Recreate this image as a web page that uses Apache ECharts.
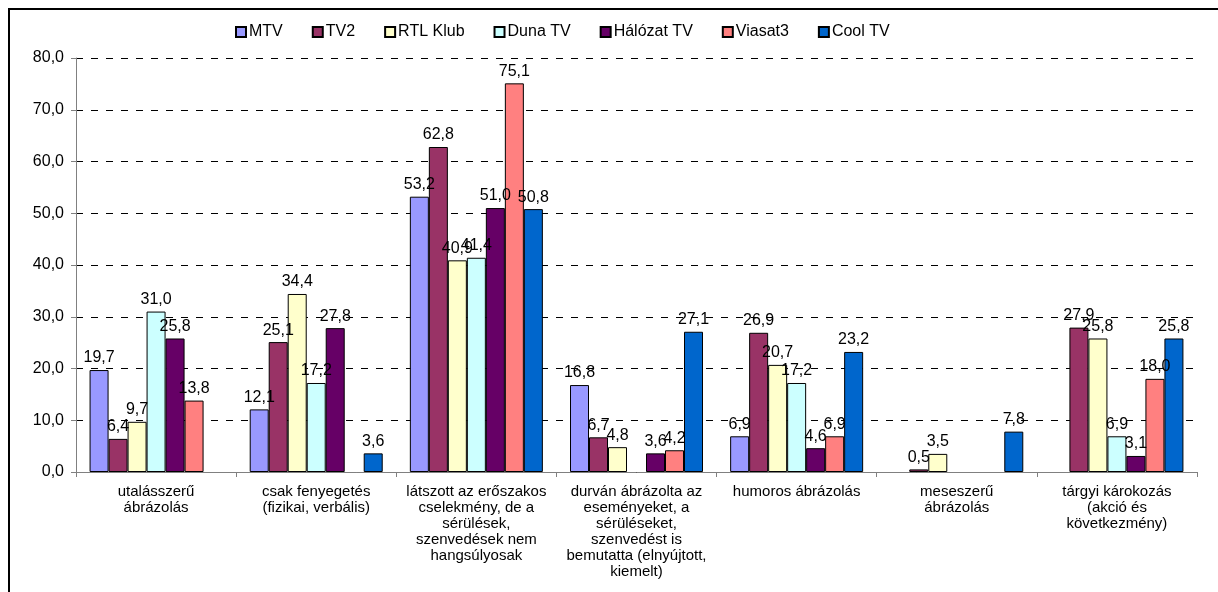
<!DOCTYPE html>
<html>
<head>
<meta charset="utf-8">
<script src="https://cdn.jsdelivr.net/npm/echarts@6/dist/echarts.min.js"></script>
<style>
  html, body { margin: 0; padding: 0; background: #fff; overflow: hidden; }
  #frame { position: absolute; left: 8px; top: 8px; width: 1300px; height: 700px;
           border-left: 2px solid #000; border-top: 2px solid #000; box-sizing: border-box; }
  #chart { position: absolute; left: 0; top: 0; width: 1218px; height: 592px; }
</style>
</head>
<body>
<div id="frame"></div>
<div id="chart"></div>
<script>
// Categories of violence depiction
const categories = [
  'utalásszerű\nábrázolás',
  'csak fenyegetés\n(fizikai, verbális)',
  'látszott az erőszakos\ncselekmény, de a\nsérülések,\nszenvedések nem\nhangsúlyosak',
  'durván ábrázolta az\neseményeket, a\nsérüléseket,\nszenvedést is\nbemutatta (elnyújtott,\nkiemelt)',
  'humoros ábrázolás',
  'meseszerű\nábrázolás',
  'tárgyi károkozás\n(akció és\nkövetkezmény)'
];

// Share (%) per channel; null where a channel has no value
const mtv      = [19.7, 12.1, 53.2, 16.8, 6.9, null, null];
const tv2      = [6.4, 25.1, 62.8, 6.7, 26.9, 0.5, 27.9];
const rtlKlub  = [9.7, 34.4, 40.9, 4.8, 20.7, 3.5, 25.8];
const dunaTv   = [31.0, 17.2, 41.4, null, 17.2, null, 6.9];
const halozatTv = [25.8, 27.8, 51.0, 3.6, 4.6, null, 3.1];
const viasat3  = [13.8, null, 75.1, 4.2, 6.9, null, 18.0];
const coolTv   = [null, 3.6, 50.8, 27.1, 23.2, 7.8, 25.8];

const channels = ['MTV', 'TV2', 'RTL Klub', 'Duna TV', 'Hálózat TV', 'Viasat3', 'Cool TV'];
const yTicks = { min: 0, max: 80, interval: 10 };

const colors = ['#9999FF', '#993366', '#FFFFCC', '#CCFFFF', '#660066', '#FF8080', '#0066CC'];
const seriesData = [mtv, tv2, rtlKlub, dunaTv, halozatTv, viasat3, coolTv];
const FONT = '"Liberation Sans", Arial, sans-serif';
const fmt = v => Number(v).toFixed(1).replace('.', ',');

const chart = echarts.init(document.getElementById('chart'), null, { renderer: 'canvas' });

chart.setOption({
  animation: false,
  textStyle: { fontFamily: FONT },
  legend: {
    top: 19,
    left: 230,
    itemWidth: 10,
    itemHeight: 10,
    itemGap: 29,
    icon: 'rect',
    textStyle: { fontFamily: FONT, fontSize: 16, color: '#000', padding: [0, 0, 0, -2] },
    data: channels
  },
  grid: { left: 76, right: 21, top: 58, bottom: 120, containLabel: false },
  xAxis: {
    type: 'category',
    data: categories,
    axisLine: { lineStyle: { color: '#808080', width: 1 } },
    axisTick: { show: true, length: 5, lineStyle: { color: '#808080' } },
    axisLabel: {
      interval: 0, margin: 12, color: '#000', fontSize: 15, lineHeight: 16,
      fontFamily: FONT, align: 'center'
    }
  },
  yAxis: {
    type: 'value',
    min: yTicks.min, max: yTicks.max, interval: yTicks.interval,
    axisLine: { show: true, lineStyle: { color: '#808080', width: 1 } },
    axisTick: { show: true, length: 5, lineStyle: { color: '#808080' } },
    axisLabel: { color: '#000', fontSize: 16, fontFamily: FONT, margin: 12, formatter: fmt },
    splitLine: { show: true, lineStyle: { color: '#000', type: [7, 8], width: 1 } }
  },
  series: channels.map((name, i) => ({
    name,
    type: 'bar',
    data: seriesData[i],
    barWidth: 19,
    barGap: '0%',
    itemStyle: { color: colors[i], borderColor: '#000', borderWidth: 1 },
    label: {
      show: true, position: 'top', distance: 4,
      color: '#000', fontSize: 16, fontFamily: FONT,
      formatter: p => (p.value == null ? '' : fmt(p.value))
    }
  }))
});
</script>
</body>
</html>
